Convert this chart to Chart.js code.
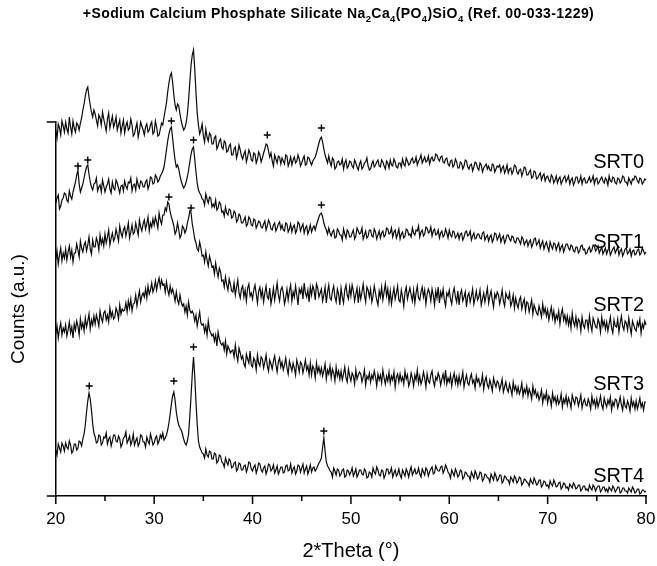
<!DOCTYPE html>
<html><head><meta charset="utf-8">
<script src="https://cdn.jsdelivr.net/npm/chart.js@4"></script>
<style>html,body{margin:0;padding:0;background:#fff}#wrap{width:657px;height:566px}</style>
</head><body><div id="wrap"><canvas id="c" width="657" height="566"></canvas></div>
<script>
// 2*Theta grid (degrees), one row per degree
const theta = [
20,20.125,20.25,20.375,20.5,20.625,20.75,20.875,
21,21.125,21.25,21.375,21.5,21.625,21.75,21.875,
22,22.125,22.25,22.375,22.5,22.625,22.75,22.875,
23,23.125,23.25,23.375,23.5,23.625,23.75,23.875,
24,24.125,24.25,24.375,24.5,24.625,24.75,24.875,
25,25.125,25.25,25.375,25.5,25.625,25.75,25.875,
26,26.125,26.25,26.375,26.5,26.625,26.75,26.875,
27,27.125,27.25,27.375,27.5,27.625,27.75,27.875,
28,28.125,28.25,28.375,28.5,28.625,28.75,28.875,
29,29.125,29.25,29.375,29.5,29.625,29.75,29.875,
30,30.125,30.25,30.375,30.5,30.625,30.75,30.875,
31,31.125,31.25,31.375,31.5,31.625,31.75,31.875,
32,32.125,32.25,32.375,32.5,32.625,32.75,32.875,
33,33.125,33.25,33.375,33.5,33.625,33.75,33.875,
34,34.125,34.25,34.375,34.5,34.625,34.75,34.875,
35,35.125,35.25,35.375,35.5,35.625,35.75,35.875,
36,36.125,36.25,36.375,36.5,36.625,36.75,36.875,
37,37.125,37.25,37.375,37.5,37.625,37.75,37.875,
38,38.125,38.25,38.375,38.5,38.625,38.75,38.875,
39,39.125,39.25,39.375,39.5,39.625,39.75,39.875,
40,40.125,40.25,40.375,40.5,40.625,40.75,40.875,
41,41.125,41.25,41.375,41.5,41.625,41.75,41.875,
42,42.125,42.25,42.375,42.5,42.625,42.75,42.875,
43,43.125,43.25,43.375,43.5,43.625,43.75,43.875,
44,44.125,44.25,44.375,44.5,44.625,44.75,44.875,
45,45.125,45.25,45.375,45.5,45.625,45.75,45.875,
46,46.125,46.25,46.375,46.5,46.625,46.75,46.875,
47,47.125,47.25,47.375,47.5,47.625,47.75,47.875,
48,48.125,48.25,48.375,48.5,48.625,48.75,48.875,
49,49.125,49.25,49.375,49.5,49.625,49.75,49.875,
50,50.125,50.25,50.375,50.5,50.625,50.75,50.875,
51,51.125,51.25,51.375,51.5,51.625,51.75,51.875,
52,52.125,52.25,52.375,52.5,52.625,52.75,52.875,
53,53.125,53.25,53.375,53.5,53.625,53.75,53.875,
54,54.125,54.25,54.375,54.5,54.625,54.75,54.875,
55,55.125,55.25,55.375,55.5,55.625,55.75,55.875,
56,56.125,56.25,56.375,56.5,56.625,56.75,56.875,
57,57.125,57.25,57.375,57.5,57.625,57.75,57.875,
58,58.125,58.25,58.375,58.5,58.625,58.75,58.875,
59,59.125,59.25,59.375,59.5,59.625,59.75,59.875,
60,60.125,60.25,60.375,60.5,60.625,60.75,60.875,
61,61.125,61.25,61.375,61.5,61.625,61.75,61.875,
62,62.125,62.25,62.375,62.5,62.625,62.75,62.875,
63,63.125,63.25,63.375,63.5,63.625,63.75,63.875,
64,64.125,64.25,64.375,64.5,64.625,64.75,64.875,
65,65.125,65.25,65.375,65.5,65.625,65.75,65.875,
66,66.125,66.25,66.375,66.5,66.625,66.75,66.875,
67,67.125,67.25,67.375,67.5,67.625,67.75,67.875,
68,68.125,68.25,68.375,68.5,68.625,68.75,68.875,
69,69.125,69.25,69.375,69.5,69.625,69.75,69.875,
70,70.125,70.25,70.375,70.5,70.625,70.75,70.875,
71,71.125,71.25,71.375,71.5,71.625,71.75,71.875,
72,72.125,72.25,72.375,72.5,72.625,72.75,72.875,
73,73.125,73.25,73.375,73.5,73.625,73.75,73.875,
74,74.125,74.25,74.375,74.5,74.625,74.75,74.875,
75,75.125,75.25,75.375,75.5,75.625,75.75,75.875,
76,76.125,76.25,76.375,76.5,76.625,76.75,76.875,
77,77.125,77.25,77.375,77.5,77.625,77.75,77.875,
78,78.125,78.25,78.375,78.5,78.625,78.75,78.875,
79,79.125,79.25,79.375,79.5,79.625,79.75,79.875,
80];

// Counts (a.u., stacked traces), one row per degree
const srt0 = [
366,358,372,368,361,375,370,364, 374,367,363,379,369,362,375,368, 364,373,371,366,373,378,386,392,
400,406,409,399,391,384,379,386, 382,376,370,381,378,371,384,377, 371,365,377,383,368,374,380,369,
373,379,366,371,376,363,370,376, 363,370,374,366,368,377,371,360, 362,368,373,359,365,374,370,366,
361,369,372,364,366,371,374,362, 364,375,369,360,361,367,373,371, 379,386,393,404,413,420,423,414,
401,391,386,392,390,382,375,370, 366,368,373,382,396,414,431,441, 446,427,404,383,371,362,366,372,
360,354,367,359,355,363,361,352, 352,358,360,347,350,355,357,349, 347,355,353,344,345,350,352,341,
341,347,349,338,343,351,346,340, 337,342,345,334,339,346,343,336, 335,343,342,333,337,344,341,334,
338,343,347,352,351,345,339,343, 335,330,341,337,333,340,339,332, 338,335,332,341,340,330,334,339,
331,336,339,333,335,341,337,330, 333,337,340,331,332,339,338,334, 331,335,337,339,343,348,353,357,
359,354,347,341,337,333,340,334, 330,338,336,327,329,334,335,331, 332,337,327,333,336,328,330,335,
334,330,328,336,333,329,326,332, 335,327,329,333,334,338,330,326, 327,332,335,329,331,334,336,330,
329,336,334,330,327,335,333,328, 336,331,330,337,334,329,328,333, 333,329,337,332,330,338,335,331,
332,336,338,333,334,339,331,335, 337,341,333,336,339,334,335,340, 332,337,339,335,336,342,341,337,
335,339,340,334,333,337,338,332, 330,335,336,329,331,337,334,328, 328,334,333,327,330,336,335,329,
327,331,332,325,329,334,333,328, 326,333,331,324,328,330,332,327, 330,326,325,332,331,324,327,330,
329,331,324,328,330,323,326,331, 323,327,328,322,325,331,330,324, 322,326,327,320,324,329,328,321,
321,324,326,318,319,325,324,317, 318,321,323,316,320,322,315,319, 320,316,314,321,319,313,316,320,
313,317,319,312,315,318,320,314, 317,320,312,316,318,311,314,319, 319,313,315,320,312,317,318,313,
313,316,319,314,316,320,312,317, 318,312,314,317,319,315,313,318, 316,311,320,315,314,319,318,313,
312,318,317,313,315,320,319,314, 314,311,318,315,312,317,316,320, 319,315,313,318,317,312,314,317,
316];
const srt1 = [
293,298,301,287,290,296,298,303, 302,296,294,305,300,297,304,309, 314,321,326,312,304,308,312,318,
324,329,331,322,314,309,306,312, 313,318,305,309,311,304,316,310, 304,309,312,317,307,303,314,308,
306,316,313,308,303,310,311,305, 315,310,307,314,313,318,305,311, 312,306,317,311,308,315,314,309,
309,314,316,307,311,319,318,312, 313,321,319,314,316,320,322,325, 329,337,346,355,362,367,369,358,
346,336,329,331,327,320,315,311, 308,310,314,319,326,334,342,347, 349,337,324,313,306,303,301,297,
296,291,302,297,293,299,298,289, 292,289,296,286,288,294,292,284, 285,280,289,283,281,287,286,278,
279,285,283,274,276,282,280,273, 273,276,279,270,272,279,277,271, 270,277,276,268,271,275,274,269,
268,272,275,266,270,276,273,267, 266,271,273,265,268,272,274,267, 271,266,265,273,272,264,267,272,
264,269,271,263,266,274,272,265, 269,272,263,268,270,262,266,271, 264,268,270,266,271,275,279,282,
283,279,273,269,266,262,268,263, 260,264,266,258,259,267,265,261, 261,256,267,262,258,266,264,259,
259,263,266,257,260,268,265,262, 263,268,257,261,265,258,260,266, 266,260,259,267,264,257,261,265,
258,263,265,259,261,268,267,262, 263,268,259,264,266,258,262,267, 257,262,264,258,260,267,266,261,
262,259,268,263,261,266,265,270, 259,264,266,260,262,269,268,263, 264,269,260,265,267,261,262,266,
258,263,265,259,261,267,263,258, 266,261,259,265,264,258,260,263, 257,262,263,256,259,264,265,260,
261,265,256,260,263,257,258,262, 262,258,257,263,264,256,259,261, 255,259,261,254,257,263,262,256,
259,262,254,258,260,253,256,261, 261,257,255,260,259,254,253,258, 258,255,252,259,257,251,254,256,
250,254,256,249,252,257,258,251, 253,256,248,252,255,247,251,254, 249,245,254,250,247,253,252,246,
250,253,245,249,251,244,248,252, 252,248,246,251,250,245,244,249, 249,243,245,250,251,246,247,242,
243,247,249,244,246,251,250,245, 247,250,243,246,249,242,245,248, 242,246,248,241,244,247,249,243,
246,249,241,245,247,240,243,247, 248,242,244,247,240,245,246,241, 242,246,247,241,243,248,245,242,
244];
const srt2 = [
236,245,232,241,248,235,243,238, 247,236,244,250,239,246,234,243, 243,252,246,239,255,248,244,251,
254,245,251,259,247,242,256,249, 249,258,254,246,261,252,257,250, 262,253,259,266,251,258,263,255,
258,267,261,255,270,263,259,266, 269,260,266,273,258,264,271,262, 264,273,267,261,276,269,265,272,
276,267,272,279,265,273,269,277, 271,279,274,268,283,276,272,281, 281,288,285,294,292,284,279,275,
270,262,265,273,266,258,261,270, 268,263,266,273,278,285,283,272, 265,257,253,247,245,254,248,240,
241,234,244,236,230,240,235,229, 230,222,233,225,219,228,224,215, 216,209,219,211,206,217,212,205,
204,213,201,209,216,203,198,207, 210,199,206,195,208,212,200,203, 197,206,211,202,193,205,209,199,
206,194,203,210,199,197,208,192, 199,208,196,204,213,201,195,206, 209,203,192,198,207,196,205,211,
195,204,199,210,201,191,207,203, 208,197,213,203,199,206,194,209, 201,210,206,196,212,208,199,203,
207,195,201,209,193,204,211,198, 196,205,210,199,194,207,202,191, 208,199,193,206,211,201,197,209,
200,211,205,195,202,208,193,206, 197,204,212,201,194,209,206,199, 207,194,200,210,203,196,191,205,
199,209,196,204,212,200,207,194, 205,192,201,208,197,203,210,196, 194,206,199,190,204,209,197,203,
208,201,195,206,193,203,210,198, 196,204,209,199,206,192,202,207, 203,195,207,201,191,205,198,209,
193,204,199,207,196,190,203,200, 206,197,192,203,208,199,194,205, 191,202,206,195,199,204,189,200,
203,194,200,207,192,198,205,196, 199,206,191,197,203,194,201,208, 193,200,205,196,189,202,198,204,
201,192,198,206,195,190,203,199, 197,203,190,194,201,188,198,192, 188,196,199,187,193,197,185,194,
193,184,190,196,182,191,187,183, 181,190,185,179,192,183,188,180, 186,176,183,189,178,185,174,181,
177,185,172,182,187,176,181,173, 180,171,178,168,183,174,170,179, 169,177,175,165,179,171,168,176,
176,167,180,171,165,178,174,169, 168,177,173,164,179,170,175,167, 174,165,172,179,168,163,176,170,
169,177,164,173,180,170,166,175, 173,166,178,169,162,175,171,167, 165,174,170,177,163,172,168,175,
171];
const srt3 = [
162,170,158,167,173,161,168,164, 171,160,166,174,163,169,158,172, 166,175,170,161,177,168,173,165,
178,169,175,182,167,176,171,180, 172,181,176,170,185,178,174,183, 185,176,181,174,188,179,184,177,
179,188,184,177,191,182,187,185, 186,193,184,195,188,197,185,192, 193,201,190,198,205,194,200,203,
199,207,198,210,202,206,213,204, 208,215,206,213,218,209,216,211, 212,204,214,206,201,210,203,207,
202,195,204,196,192,201,194,190, 192,184,190,181,194,186,183,185, 182,175,181,170,177,184,173,171,
172,164,170,161,175,166,163,160, 162,155,161,150,164,157,153,151, 153,146,155,142,150,147,143,145,
146,139,151,141,135,148,143,137, 140,132,129,142,137,133,145,131, 129,138,135,126,141,133,130,139,
137,128,134,141,130,125,136,132, 127,135,140,131,124,134,138,129, 134,126,131,138,128,122,135,130,
125,133,128,121,136,131,124,134, 132,123,129,136,126,130,121,133, 121,130,127,118,133,124,129,122,
128,120,125,132,117,126,122,130, 118,127,123,115,129,120,125,117, 125,116,122,129,118,114,127,120,
115,123,120,112,126,117,121,124, 122,114,119,126,111,120,117,123, 114,121,117,125,119,110,122,116,
121,113,126,118,112,120,115,124, 113,120,116,124,109,119,122,114, 122,115,119,112,125,117,121,110,
114,123,118,110,121,116,126,113, 120,112,116,124,118,109,122,115, 113,121,125,115,110,119,116,123,
119,111,117,122,114,126,112,118, 114,121,110,118,123,113,119,111, 120,112,117,124,109,116,121,113,
111,118,122,113,116,108,120,114, 117,110,113,121,107,115,119,111, 108,116,111,105,118,113,109,115,
113,106,111,117,104,109,114,107, 104,112,107,101,114,106,110,103, 109,102,106,113,100,107,103,110,
100,107,103,97,110,102,106,99, 103,96,100,106,93,101,97,104, 93,100,97,90,103,95,99,92,
99,92,95,102,89,97,93,100, 91,98,94,88,101,96,92,99, 98,90,95,101,88,94,97,91,
90,97,93,87,100,92,96,89, 97,89,94,100,91,87,98,93, 89,96,92,99,86,94,90,97,
96,88,93,99,91,86,97,90, 88,95,91,85,98,90,94,87, 95,87,92,98,89,93,86,94,
94];
const srt4 = [
46,41,52,48,44,53,50,45, 53,49,47,55,51,43,45,52, 52,46,48,55,54,50,57,62,
71,84,95,103,97,86,72,63, 59,53,54,61,60,51,53,59, 58,63,52,57,59,50,55,61,
61,55,54,60,57,49,52,58, 59,64,53,56,60,51,55,62, 51,55,58,50,53,61,60,54,
54,49,59,55,52,62,57,51, 53,58,60,52,55,61,58,63, 56,58,61,66,73,82,92,100,
104,96,84,76,71,68,66,62, 57,53,51,55,62,80,100,122, 139,120,94,72,55,49,46,43,
42,38,47,41,39,45,44,37, 37,43,42,33,35,41,40,34, 33,29,38,34,31,37,35,28,
29,33,34,25,27,33,32,26, 26,30,31,24,28,34,33,27, 25,29,31,23,27,33,32,26,
24,28,30,22,26,32,31,25, 27,31,23,26,30,22,25,29, 29,23,24,30,31,25,26,32,
23,27,29,22,25,31,30,24, 28,32,23,27,30,22,26,31, 24,28,29,25,27,30,33,35,
38,49,58,45,34,30,28,25, 24,19,28,25,21,27,26,20, 22,26,27,19,20,26,25,21,
24,28,20,23,27,19,22,26, 26,22,21,27,25,18,19,24, 23,19,28,24,22,29,26,21,
20,26,25,18,21,27,27,22, 24,28,19,23,26,20,22,27, 21,18,26,23,20,27,24,19,
25,29,21,24,27,22,23,28, 22,19,27,24,21,28,26,20, 24,27,29,22,23,30,27,25,
25,29,30,23,26,31,28,24, 22,18,26,23,20,27,24,19, 21,26,25,17,19,24,23,20,
20,16,24,21,18,25,22,17, 19,24,23,15,17,22,21,18, 18,14,22,19,16,23,20,15,
17,21,21,13,15,20,19,16, 16,12,19,17,14,20,18,13, 15,19,18,11,13,17,16,14,
13,10,17,14,12,18,15,11, 12,16,16,9,11,15,14,10, 11,8,15,12,10,16,13,9,
10,13,14,7,9,13,12,8, 9,6,12,10,8,13,11,7, 8,11,11,5,7,10,10,6,
7,5,11,8,6,11,9,5, 8,10,10,4,6,9,9,5, 7,4,9,7,5,10,8,4,
6,9,9,3,4,8,8,5, 5,3,8,6,4,9,7,3, 4,7,7,2,3,6,6,4,
5];

const seriesNames = ['SRT0','SRT1','SRT2','SRT3','SRT4'];
const seriesValues = [srt0, srt1, srt2, srt3, srt4];

// "+" peak markers (Na2Ca4(PO4)SiO4 reflections)
const markerTheta  = [23.25,31.75,34.0,41.5,47.0, 22.25,23.25,31.75,34.0,47.0, 31.5,33.75, 23.4,32.0,34.0,47.25];
const markerCounts = [413,425,454,361,368, 330,336,375,356,291, 299,288, 110,115,149,65];

const xTicks = [20,30,40,50,60,70,80];

const FONT = '"Liberation Sans", Arial, Helvetica, sans-serif';
Chart.defaults.color = '#000';
Chart.defaults.font.family = FONT;

const datasets = seriesValues.map((s, k) => ({
  type: 'line',
  label: seriesNames[k],
  data: theta.map((t, i) => ({x: t, y: s[i]})),
  borderColor: '#0a0a0a',
  borderWidth: 1.2,
  pointRadius: 0,
  tension: 0,
  clip: false
}));
datasets.push({
  type: 'scatter',
  label: 'markers',
  data: markerTheta.map((t, i) => ({x: t, y: markerCounts[i]})),
  pointStyle: 'cross',
  pointRadius: 3.5,
  borderColor: '#000',
  backgroundColor: '#000',
  borderWidth: 1.4,
  clip: false
});

const labelLevels = {SRT0: 335, SRT1: 255.5, SRT2: 192.5, SRT3: 113.5, SRT4: 21.5};

const decor = {
  id: 'decor',
  afterDraw(chart) {
    const ctx = chart.ctx, xs = chart.scales.x, ys = chart.scales.y, a = chart.chartArea;
    ctx.save();
    ctx.strokeStyle = '#000';
    ctx.lineWidth = 1.5;
    ctx.beginPath();
    for (let v = 20; v <= 80; v += 5) {
      const px = xs.getPixelForValue(v);
      ctx.moveTo(px, a.bottom);
      ctx.lineTo(px, a.bottom + (v % 10 === 0 ? 8 : 5));
    }
    ctx.moveTo(a.left - 9, a.bottom); ctx.lineTo(a.left, a.bottom);
    ctx.moveTo(a.left - 9, a.top); ctx.lineTo(a.left, a.top);
    ctx.stroke();

    // sample labels
    ctx.fillStyle = '#000';
    ctx.font = '20px ' + FONT;
    ctx.textAlign = 'right';
    ctx.textBaseline = 'alphabetic';
    seriesNames.forEach(n => {
      const py = ys.getPixelForValue(labelLevels[n]);
      ctx.fillText(n, a.right - 2, py + 7);
    });

    // title with subscripts
    const parts = [['+Sodium Calcium Phosphate Silicate Na',0],['2',1],['Ca',0],['4',1],['(PO',0],['4',1],[')SiO',0],['4',1],[' (Ref. 00-033-1229)',0]];
    const mainF = 'bold 14px ' + FONT, subF = 'bold 9.5px ' + FONT;
    if ('letterSpacing' in ctx) ctx.letterSpacing = '0.4px';
    let w = 0;
    parts.forEach(p => { ctx.font = p[1] ? subF : mainF; w += ctx.measureText(p[0]).width; });
    let x0 = 338.5 - w / 2;
    ctx.textAlign = 'left';
    parts.forEach(p => {
      ctx.font = p[1] ? subF : mainF;
      ctx.fillText(p[0], x0, p[1] ? 22 : 18);
      x0 += ctx.measureText(p[0]).width;
    });
    if ('letterSpacing' in ctx) ctx.letterSpacing = '0px';
    ctx.restore();
  }
};

new Chart(document.getElementById('c'), {
  data: {datasets},
  options: {
    responsive: false,
    animation: false,
    events: [],
    layout: {padding: {top: 122, right: 0, left: 7, bottom: 0}},
    plugins: {legend: {display: false}, tooltip: {enabled: false}, title: {display: false}},
    scales: {
      x: {
        type: 'linear', min: 20, max: 80,
        afterBuildTicks: s => { s.ticks = xTicks.map(v => ({value: v})); },
        afterFit: s => { s.paddingRight = 11; },
        ticks: {font: {size: 17}, color: '#000', padding: 13.5, maxRotation: 0},
        grid: {display: false, drawTicks: false},
        border: {display: true, color: '#000', width: 1.5},
        title: {display: true, text: '2*Theta (°)', font: {size: 20}, color: '#000', padding: {top: -4.4, bottom: 3}}
      },
      y: {
        type: 'linear', min: 0, max: 374,
        ticks: {display: false},
        grid: {display: false, drawTicks: false},
        border: {display: true, color: '#000', width: 1.5},
        title: {display: true, text: 'Counts (a.u.)', font: {size: 19}, color: '#000', padding: {top: 0, bottom: 26}}
      }
    }
  },
  plugins: [decor]
});
</script>
</body></html>
